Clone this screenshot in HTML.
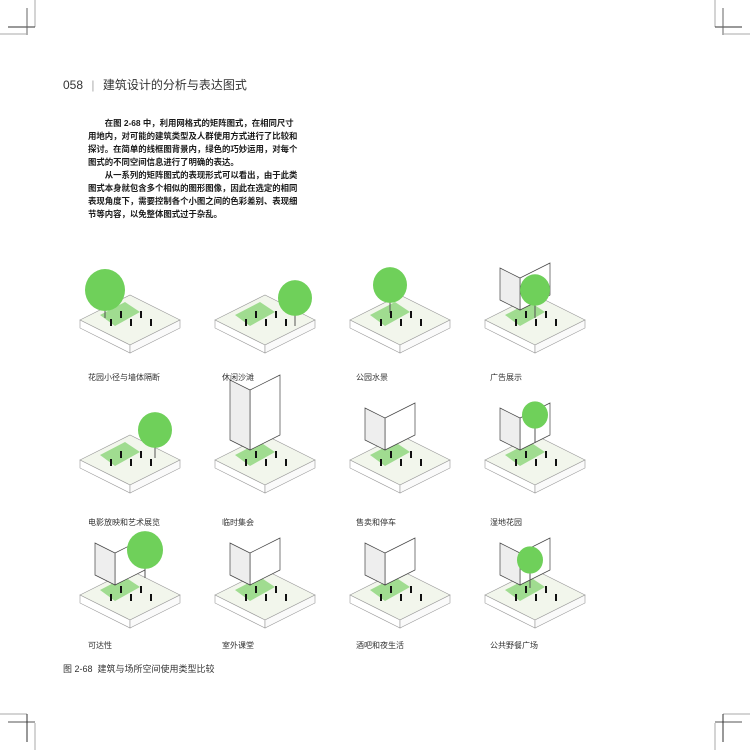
<!DOCTYPE html>
<html><head><meta charset="utf-8"><style>
body{margin:0;background:#fff;width:750px;height:750px;position:relative;overflow:hidden;font-family:"Liberation Sans","Noto Sans CJK SC",sans-serif}
.t{position:absolute;white-space:nowrap;color:#222}
.body{left:88px;top:117px;font-size:8.4px;line-height:13px;font-weight:bold;color:#1a1a1a}
.lab{font-size:8px;color:#333}
svg{position:absolute;left:0;top:0}
</style></head><body>
<svg width="750" height="750" id="s">
<g stroke-width="1">
<line x1="35" y1="0" x2="35" y2="27" stroke="#aaa"/><line x1="8" y1="27" x2="35" y2="27" stroke="#333"/>
<line x1="27" y1="8" x2="27" y2="35" stroke="#666"/><line x1="0" y1="34" x2="27" y2="34" stroke="#aaa"/>
<line x1="715" y1="0" x2="715" y2="27" stroke="#aaa"/><line x1="715" y1="27" x2="742" y2="27" stroke="#333"/>
<line x1="723" y1="8" x2="723" y2="35" stroke="#666"/><line x1="723" y1="34" x2="750" y2="34" stroke="#aaa"/>
<line x1="0" y1="714" x2="27" y2="714" stroke="#aaa"/><line x1="8" y1="722" x2="35" y2="722" stroke="#555"/>
<line x1="27" y1="714" x2="27" y2="742" stroke="#333"/><line x1="35" y1="723" x2="35" y2="750" stroke="#aaa"/>
<line x1="723" y1="714" x2="750" y2="714" stroke="#aaa"/><line x1="715" y1="722" x2="742" y2="722" stroke="#555"/>
<line x1="723" y1="714" x2="723" y2="742" stroke="#333"/><line x1="715" y1="723" x2="715" y2="750" stroke="#aaa"/>
</g>
<g id="tiles"></g>
</svg>
<div class="t" style="left:63px;top:76px;font-size:12px;color:#333">058 <span style="color:#aaa;margin:0 5px">|</span> 建筑设计的分析与表达图式</div>
<div class="t body">&emsp;&emsp;在图 2-68 中，利用网格式的矩阵图式，在相同尺寸<br>用地内，对可能的建筑类型及人群使用方式进行了比较和<br>探讨。在简单的线框图背景内，绿色的巧妙运用，对每个<br>图式的不同空间信息进行了明确的表达。<br>&emsp;&emsp;从一系列的矩阵图式的表现形式可以看出，由于此类<br>图式本身就包含多个相似的图形图像，因此在选定的相同<br>表现角度下，需要控制各个小图之间的色彩差别、表现细<br>节等内容，以免整体图式过于杂乱。</div>
<div class="t lab" style="left:88px;top:372px">花园小径与墙体隔断</div>
<div class="t lab" style="left:222px;top:372px">休闲沙滩</div>
<div class="t lab" style="left:356px;top:372px">公园水景</div>
<div class="t lab" style="left:490px;top:372px">广告展示</div>
<div class="t lab" style="left:88px;top:517px">电影放映和艺术展览</div>
<div class="t lab" style="left:222px;top:517px">临时集会</div>
<div class="t lab" style="left:356px;top:517px">售卖和停车</div>
<div class="t lab" style="left:490px;top:517px">湿地花园</div>
<div class="t lab" style="left:88px;top:640px">可达性</div>
<div class="t lab" style="left:222px;top:640px">室外课堂</div>
<div class="t lab" style="left:356px;top:640px">酒吧和夜生活</div>
<div class="t lab" style="left:490px;top:640px">公共野餐广场</div>
<div class="t" style="left:63px;top:662px;font-size:9px;color:#333">图 2-68&nbsp; 建筑与场所空间使用类型比较</div>
<script>
var g=document.getElementById('tiles'),h='';
var cols=[130,265,400,535],rows=[320,460,595];
var trees=[[-25,-30,20],[30,-22,17],[-10,-35,17],[0,-30,15],[25,-30,17],[0,0,0],[0,0,0],[0,-45,13],[15,-45,18],[0,0,0],[0,0,0],[-5,-35,13]];
var bld=[0,0,0,1,0,2,1,1,1,1,1,1];
var k=0;
rows.forEach(function(cy){cols.forEach(function(cx){
 var w=50,d=25,t=8;
 h+='<polygon points="'+(cx-w)+','+cy+' '+cx+','+(cy-d)+' '+(cx+w)+','+cy+' '+cx+','+(cy+d)+'" fill="#f2f6ec" stroke="#999" stroke-width=".6"/>';
 h+='<polygon points="'+(cx-w)+','+cy+' '+cx+','+(cy+d)+' '+cx+','+(cy+d+t)+' '+(cx-w)+','+(cy+t)+'" fill="#fff" stroke="#999" stroke-width=".6"/>';
 h+='<polygon points="'+cx+','+(cy+d)+' '+(cx+w)+','+cy+' '+(cx+w)+','+(cy+t)+' '+cx+','+(cy+d+t)+'" fill="#fafafa" stroke="#999" stroke-width=".6"/>';
 h+='<polygon points="'+(cx-30)+','+(cy-5)+' '+(cx-5)+','+(cy-18)+' '+(cx+10)+','+(cy-8)+' '+(cx-15)+','+(cy+6)+'" fill="#7ed26a" opacity=".7"/>';
 if(bld[k]){var bh=bld[k]==2?60:32;
  h+='<polygon points="'+(cx-15)+','+(cy-10)+' '+(cx+15)+','+(cy-25)+' '+(cx+15)+','+(cy-25-bh)+' '+(cx-15)+','+(cy-10-bh)+'" fill="#fff" stroke="#444" stroke-width=".7"/>';
  h+='<polygon points="'+(cx-35)+','+(cy-20)+' '+(cx-15)+','+(cy-10)+' '+(cx-15)+','+(cy-10-bh)+' '+(cx-35)+','+(cy-20-bh)+'" fill="#eee" stroke="#444" stroke-width=".7"/>';}
 var tr=trees[k];if(tr[2]){h+='<line x1="'+(cx+tr[0])+'" y1="'+(cy+tr[1])+'" x2="'+(cx+tr[0])+'" y2="'+(cy+tr[1]+28)+'" stroke="#555"/>';
  h+='<ellipse cx="'+(cx+tr[0])+'" cy="'+(cy+tr[1])+'" rx="'+tr[2]+'" ry="'+(tr[2]*1.05)+'" fill="#6fd05a"/>';}
 for(var i=0;i<5;i++){var px=cx-20+i*10,py=cy+(i%2?-2:6);h+='<rect x="'+px+'" y="'+(py-7)+'" width="2" height="7" fill="#111"/>';}
 k++;});});
g.innerHTML=h;
</script>
</body></html>
